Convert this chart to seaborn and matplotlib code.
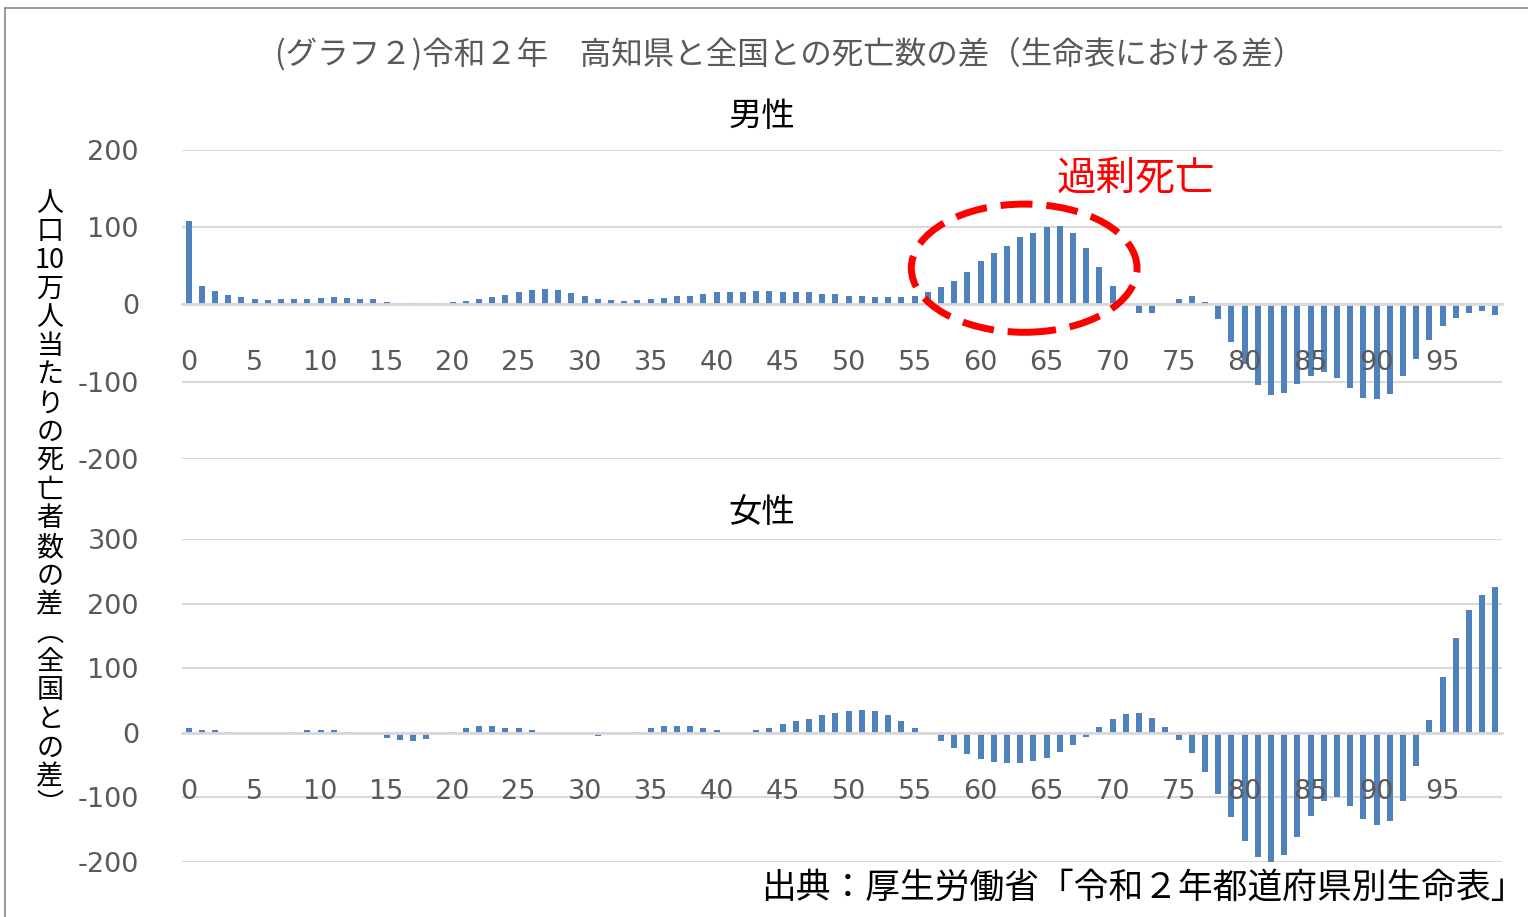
import numpy as np
import pandas as pd
import matplotlib.pyplot as plt
import seaborn as sns
from matplotlib.patches import Ellipse
from matplotlib.lines import Line2D

# 年齢（0〜99歳）
ages = list(range(100))

# 人口10万人当たりの死亡者数の差（高知県 - 全国）
male_diff = [108, 24, 17, 12, 10, 7, 6, 7, 7, 7,
             8, 10, 8, 7, 7, 3, 2, 2, 1, 2,
             3, 4, 7, 10, 12, 16, 19, 20, 19, 15,
             11, 7, 6, 4, 6, 7, 8, 11, 11, 13,
             16, 16, 16, 17, 17, 16, 16, 16, 13, 13,
             11, 11, 10, 10, 10, 11, 16, 22, 30, 42,
             56, 67, 76, 87, 93, 100, 101, 92, 73, 49,
             24, 0, -11, -11, 0, 7, 11, 3, -19, -48,
             -77, -104, -117, -114, -103, -93, -88, -95, -108, -121,
             -123, -116, -93, -70, -46, -28, -17, -11, -9, -13]

female_diff = [8, 5, 4, 2, 0, 0, 0, 0, 2, 4,
               5, 5, 2, 0, -2, -8, -11, -13, -10, -2,
               2, 7, 10, 11, 8, 7, 4, 0, 0, -1,
               -1, -5, -1, 0, 2, 7, 11, 11, 10, 7,
               5, 0, 0, 4, 7, 13, 18, 22, 27, 31,
               33, 35, 33, 27, 19, 8, 0, -13, -24, -33,
               -41, -45, -47, -47, -44, -39, -29, -19, -6, 9,
               21, 29, 30, 23, 9, -11, -32, -60, -94, -131,
               -167, -193, -201, -189, -161, -129, -105, -100, -114, -133,
               -142, -136, -105, -51, 20, 86, 146, 190, 214, 225]

male_yticks = [-200, -100, 0, 100, 200]
female_yticks = [-200, -100, 0, 100, 200, 300]
label_ages = ages[::5]

title = "(グラフ２)令和２年　高知県と全国との死亡数の差（生命表における差）"
ylabel_chars = ["人", "口", "10", "万", "人", "当", "た", "り", "の", "死", "亡", "者",
                "数", "の", "差", "︵", "全", "国", "と", "の", "差", "︶"]
source = "出典：厚生労働省「令和２年都道府県別生命表」"

sns.set_theme(style="white")
JP = ["Noto Sans CJK JP", "DejaVu Sans"]
plt.rcParams["font.family"] = JP
plt.rcParams["axes.unicode_minus"] = False

BAR = "#4f81bd"
GRID = "#d9d9d9"
GRAY = "#595959"

fig = plt.figure(figsize=(15.28, 9.17), dpi=100)
ax_m = fig.add_axes([0.1191, 0.4995, 0.8639, 0.3369])
ax_f = fig.add_axes([0.1191, 0.0600, 0.8639, 0.3522])


def draw_panel(ax, values, yticks):
    df = pd.DataFrame({"age": ages, "diff": values})
    sns.barplot(data=df, x="age", y="diff", color=BAR, width=0.46,
                saturation=1, errorbar=None, linewidth=0, ax=ax, zorder=2)
    ax.set_axisbelow(False)
    ax.set_xlim(-0.5, 99.5)
    ax.set_ylim(yticks[0], yticks[-1])
    ax.set_yticks(yticks)
    for t in yticks:
        ax.axhline(t, color=GRID, lw=1.5, zorder=0)
    for s in ["top", "right", "left"]:
        ax.spines[s].set_visible(False)
    ax.spines["bottom"].set_position(("data", 0))
    ax.spines["bottom"].set_color(GRID)
    ax.spines["bottom"].set_linewidth(2)
    ax.set_xticks(np.arange(-0.5, 100, 1))
    ax.set_xticklabels([])
    ax.tick_params(axis="x", which="major", direction="out", length=8,
                   width=1.5, color=GRID)
    ax.set_xticks(label_ages, minor=True)
    ax.set_xticklabels([str(a) for a in label_ages], minor=True)
    ax.tick_params(axis="x", which="minor", length=0, pad=33,
                   labelsize=19.5, labelcolor=GRAY)
    ax.tick_params(axis="y", length=0, pad=31, labelsize=19.5, labelcolor=GRAY)
    for lbl in ax.get_xticklabels(minor=True) + ax.get_yticklabels():
        lbl.set_fontfamily("DejaVu Sans")
    ax.set_xlabel("")
    ax.set_ylabel("")


draw_panel(ax_m, male_diff, male_yticks)
draw_panel(ax_f, female_diff, female_yticks)

# 過剰死亡の強調
ax_m.add_patch(Ellipse((63.3, 47), width=17.1, height=166, fill=False,
                       edgecolor="#ff0000", lw=5, linestyle=(0, (4.6, 2.0)),
                       clip_on=False, zorder=5))
fig.text(0.7435, 0.8037, "過剰死亡", color="#ff0000", fontsize=28.5,
         ha="center", va="center", family=JP)

fig.text(0.5165, 0.9405, title, color=GRAY, fontsize=22.7, ha="center",
         va="center", family=JP)
fig.text(0.4987, 0.8730, "男性", color="black", fontsize=24, ha="center",
         va="center", family=JP)
fig.text(0.4987, 0.4415, "女性", color="black", fontsize=24, ha="center",
         va="center", family=JP)
fig.text(0.0327, 0.450, "\n".join(ylabel_chars), color="black", fontsize=19.5,
         ha="center", va="center", linespacing=1.08, family=JP)
fig.text(0.9985, 0.0316, source, color="black", fontsize=25, ha="right",
         va="center", family=JP)

# 枠線
fig.add_artist(Line2D([5 / 1528, 5 / 1528], [0, 1 - 8 / 917],
                      transform=fig.transFigure, color="#888888", lw=1.2))
fig.add_artist(Line2D([5 / 1528, 1], [1 - 8 / 917, 1 - 8 / 917],
                      transform=fig.transFigure, color="#888888", lw=1.2))

fig.savefig("out.png", dpi=100, facecolor="white")
